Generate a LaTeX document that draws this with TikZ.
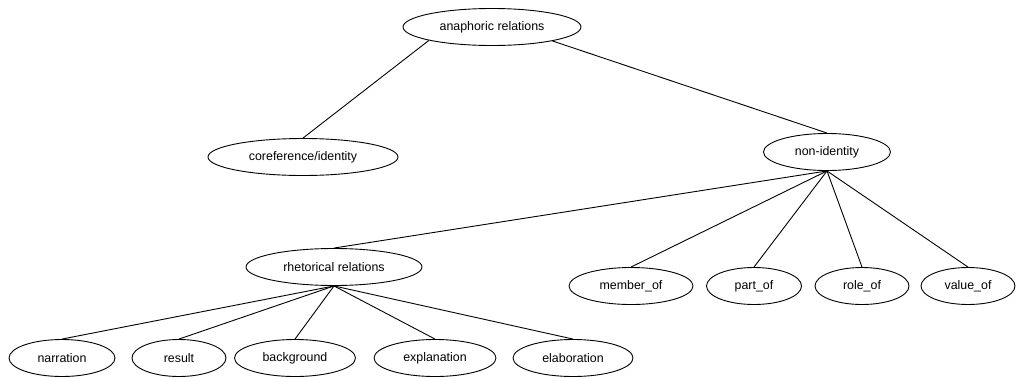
\documentclass[tikz,border=0pt]{standalone}
\usepackage{fontspec}
\setmainfont{Liberation Sans}
\usetikzlibrary{shapes.geometric}
\begin{document}
\begin{tikzpicture}[x=1pt,y=-1pt,
  nd/.style={ellipse,draw,line width=0.9pt,inner sep=0pt,minimum height=37pt,
             font=\fontsize{12.4pt}{14pt}\selectfont},
  tie/.style={line width=0.9pt}]
\useasboundingbox (0,0) rectangle (1016,380);
% top level
\node[nd,minimum width=178pt] (ana) at (492,27) {anaphoric relations};
% second level
\node[nd,minimum width=190pt] (coref) at (303,157) {coreference/identity};
\node[nd,minimum width=127pt] (nonid) at (827,152) {non-identity};
% third level
\node[nd,minimum width=176pt] (rhet) at (334,267) {rhetorical relations};
\node[nd,minimum width=124pt] (member) at (631,286) {member\_of};
\node[nd,minimum width=95pt] (part) at (754,286) {part\_of};
\node[nd,minimum width=94pt] (role) at (862,286) {role\_of};
\node[nd,minimum width=94pt] (value) at (968,286) {value\_of};
% fourth level
\node[nd,minimum width=106pt] (narr) at (62,358) {narration};
\node[nd,minimum width=94pt] (result) at (179,358) {result};
\node[nd,minimum width=121pt] (backg) at (295,358) {background};
\node[nd,minimum width=122pt] (expl) at (435,358) {explanation};
\node[nd,minimum width=120pt] (elab) at (573,358) {elaboration};
% connectors
\draw[tie] (ana.192) -- (coref.north);
\draw[tie] (ana.347) -- (nonid.north);
\foreach \c in {rhet,member,part,role,value}
  \draw[tie] (nonid.south) -- (\c.north);
\foreach \c in {narr,result,backg,expl,elab}
  \draw[tie] (rhet.south) -- (\c.north);
\end{tikzpicture}
\end{document}
